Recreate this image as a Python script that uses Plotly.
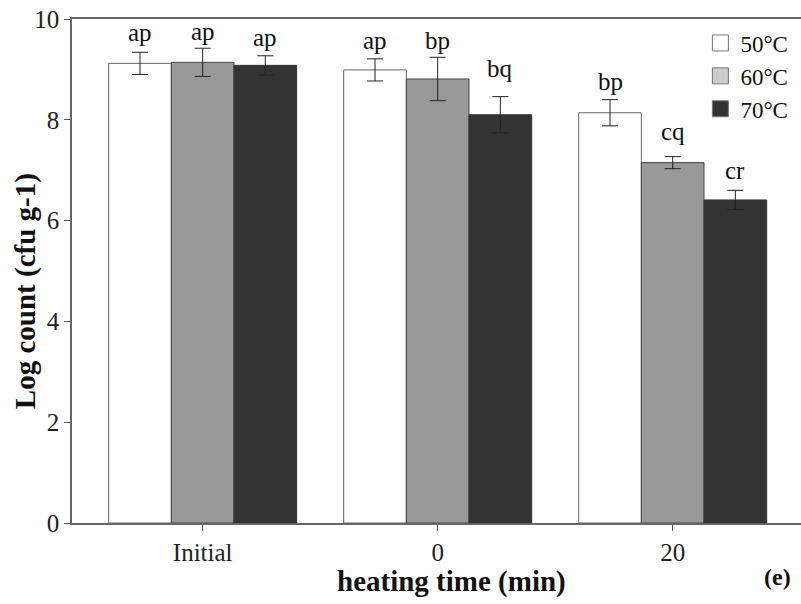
import plotly.graph_objects as go

categories = ["Initial", "0", "20"]
series_names = ["50°C", "60°C", "70°C"]
mean_50 = [9.12, 8.99, 8.14]
mean_60 = [9.14, 8.81, 7.15]
mean_70 = [9.08, 8.10, 6.41]
err_50 = [0.22, 0.22, 0.26]
err_60 = [0.28, 0.43, 0.12]
err_70 = [0.19, 0.36, 0.19]
labels_50 = ["ap", "ap", "bp"]
labels_60 = ["ap", "bp", "cq"]
labels_70 = ["ap", "bq", "cr"]

means = [mean_50, mean_60, mean_70]
errs = [err_50, err_60, err_70]
labels = [labels_50, labels_60, labels_70]

# styling
FONT = "Liberation Serif"
bar_fill = ["#ffffff", "#999999", "#333333"]
bar_line = ["#666666", "#444444", "#333333"]
legend_fill = ["#ffffff", "#cccccc", "#333333"]
label_shift = [[20, 18, 18], [17, 17, 25], [18, 28, 20]]

fig = go.Figure()
for j in range(3):
    fig.add_trace(go.Bar(
        x=categories, y=means[j], name=series_names[j], showlegend=False,
        marker=dict(color=bar_fill[j], line=dict(color=bar_line[j], width=1)),
        error_y=dict(type="data", array=errs[j], color="#222222", thickness=1, width=8),
    ))
for j in range(3):
    fig.add_trace(go.Scatter(
        x=[None], y=[None], mode="markers", name=series_names[j],
        marker=dict(symbol="square", size=18, color=legend_fill[j],
                    line=dict(color="#777777", width=1)),
    ))

group_w = 0.8
for j in range(3):
    for i in range(3):
        fig.add_annotation(
            x=i + (j - 1) * group_w / 3, y=means[j][i] + errs[j][i],
            xref="x", yref="y", text=labels[j][i], showarrow=False,
            xanchor="center", yanchor="middle", yshift=label_shift[j][i],
            font=dict(family=FONT, size=25, color="#111111"),
        )

fig.add_annotation(x=0.521, y=-0.117, xref="paper", yref="paper",
                   xanchor="center", yanchor="middle",
                   text="<b>heating time (min)</b>", showarrow=False,
                   font=dict(family=FONT, size=29, color="#111111"))
fig.add_annotation(x=0.968, y=-0.107, xref="paper", yref="paper",
                   xanchor="center", yanchor="middle",
                   text="<b>(e)</b>", showarrow=False,
                   font=dict(family=FONT, size=24, color="#111111"))
fig.add_annotation(x=-0.0645, y=0.46, xref="paper", yref="paper",
                   xanchor="center", yanchor="middle",
                   text="<b>Log count (cfu g-1)</b>", showarrow=False, textangle=-90,
                   font=dict(family=FONT, size=29, color="#111111"))

fig.update_layout(
    width=801, height=604,
    margin=dict(l=72, r=0, t=19, b=81),
    paper_bgcolor="white", plot_bgcolor="white",
    barmode="group", bargap=0.2, bargroupgap=0,
    font=dict(family=FONT, size=24, color="#222222"),
    legend=dict(x=0.862, y=0.995, xanchor="left", yanchor="top",
                font=dict(family=FONT, size=23, color="#111111"),
                bgcolor="rgba(0,0,0,0)", tracegroupgap=0, itemwidth=30),
    xaxis=dict(type="category", range=[-0.556, 2.546], showgrid=False,
               showline=True, linecolor="#666666", linewidth=1.5, mirror=True,
               ticks="outside", ticklen=6, tickcolor="#555555",
               tickfont=dict(family=FONT, size=25, color="#222222")),
    yaxis=dict(range=[0, 10], tickvals=[0, 2, 4, 6, 8, 10], showgrid=False,
               zeroline=False, showline=True, linecolor="#666666", linewidth=1.5,
               ticks="outside", ticklen=6, tickcolor="#555555",
               tickfont=dict(family=FONT, size=25, color="#222222")),
)

fig.write_html("out.html")
